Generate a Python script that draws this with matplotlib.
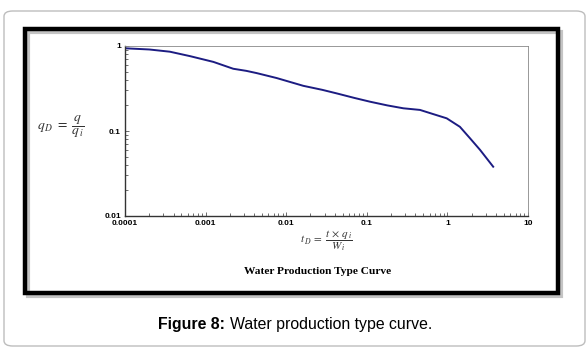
import matplotlib
matplotlib.use("Agg")
import matplotlib.pyplot as plt
from matplotlib.patches import FancyBboxPatch, Rectangle
from matplotlib.ticker import FixedLocator, FixedFormatter, LogLocator, NullFormatter

# type curve
t_D = [1e-4, 2e-4, 3.6e-4, 6.4e-4, 1.25e-3, 2.2e-3, 3.2e-3, 4.3e-3, 7.6e-3,
       0.0163, 0.028, 0.0423, 0.07, 0.11, 0.18, 0.284, 0.457, 0.668, 0.98,
       1.43, 1.91, 2.54, 3.7]
q_D = [0.94, 0.91, 0.857, 0.76, 0.65, 0.54, 0.51, 0.48, 0.42,
       0.34, 0.305, 0.277, 0.245, 0.221, 0.2, 0.185, 0.177, 0.158, 0.141,
       0.112, 0.082, 0.060, 0.038]

x_ticks = [1e-4, 1e-3, 1e-2, 1e-1, 1, 10]
x_labels = ["0.0001", "0.001", "0.01", "0.1", "1", "10"]
y_ticks = [0.01, 0.1, 1]
y_labels = ["0.01", "0.1", "1"]

plt.rcParams["mathtext.fontset"] = "stix"

W, H = 588, 358
fig = plt.figure(figsize=(W / 100, H / 100), dpi=100)

# outer grey rounded box
fig.patches.append(FancyBboxPatch((4 / W, 1 - 346 / H), 581 / W, 335 / H,
                                  boxstyle="round,pad=0,rounding_size=0.015",
                                  transform=fig.transFigure, fc="white",
                                  ec="#bdbdbd", lw=1.0, zorder=-3))
# shadow + black frame
fig.patches.append(Rectangle((28 / W, 1 - 296 / H), 533 / W, 264 / H,
                             transform=fig.transFigure, fill=False,
                             ec="#c4c4c4", lw=3.0, zorder=-2))
fig.patches.append(Rectangle((25 / W, 1 - 293 / H), 533 / W, 264 / H,
                             transform=fig.transFigure, fill=False,
                             ec="black", lw=3.2, zorder=-1))

ax = fig.add_axes([125 / W, 1 - 216 / H, 403 / W, 170 / H])
ax.set_zorder(5)
ax.patch.set_alpha(0)
ax.plot(t_D, q_D, color="#1c1c82", lw=1.4)
ax.set_xscale("log")
ax.set_yscale("log")
ax.set_xlim(1e-4, 10)
ax.set_ylim(0.01, 1)

ax.xaxis.set_major_locator(FixedLocator(x_ticks))
ax.xaxis.set_major_formatter(FixedFormatter(x_labels))
ax.yaxis.set_major_locator(FixedLocator(y_ticks))
ax.yaxis.set_major_formatter(FixedFormatter(y_labels))
ax.xaxis.set_minor_locator(LogLocator(base=10, subs=range(2, 10)))
ax.yaxis.set_minor_locator(LogLocator(base=10, subs=range(2, 10)))
ax.xaxis.set_minor_formatter(NullFormatter())
ax.yaxis.set_minor_formatter(NullFormatter())
ax.tick_params(which="both", direction="in", color="#555555", width=0.6)
ax.tick_params(which="major", length=3, pad=3)
ax.tick_params(which="minor", length=2)
ax.tick_params(top=False, right=False)
for lab in ax.get_xticklabels() + ax.get_yticklabels():
    lab.set_fontsize(6)
    lab.set_fontweight("bold")
    lab.set_family("Liberation Sans")
for s in ["top", "right"]:
    ax.spines[s].set_color("#888888")
    ax.spines[s].set_linewidth(0.6)
for s in ["left", "bottom"]:
    ax.spines[s].set_color("#333333")
    ax.spines[s].set_linewidth(1.0)

fig.text(61 / W, 1 - 127 / H, r"$q_{\,D}\;=\;\dfrac{q}{q_{\,i}}$",
         ha="center", va="center", fontsize=9.8, color="#333333")
fig.text(326 / W, 1 - 241 / H, r"$t_{\,D}\;=\;\dfrac{t\,\times\,q_{\,i}}{W_{\,i}}$",
         ha="center", va="center", fontsize=8, color="#333333")
fig.text(318 / W, 1 - 272 / H, "Water Production Type Curve",
         ha="center", va="center", fontsize=8.2, fontweight="bold",
         family="Liberation Serif")

fig.text(158 / W, 1 - 325 / H, "Figure 8:", ha="left", va="center",
         fontsize=11.4, fontweight="bold", family="Liberation Sans")
fig.text(432 / W, 1 - 325 / H, "Water production type curve.", ha="right",
         va="center", fontsize=11.4, family="Liberation Sans")

fig.savefig("out.png", dpi=100)
